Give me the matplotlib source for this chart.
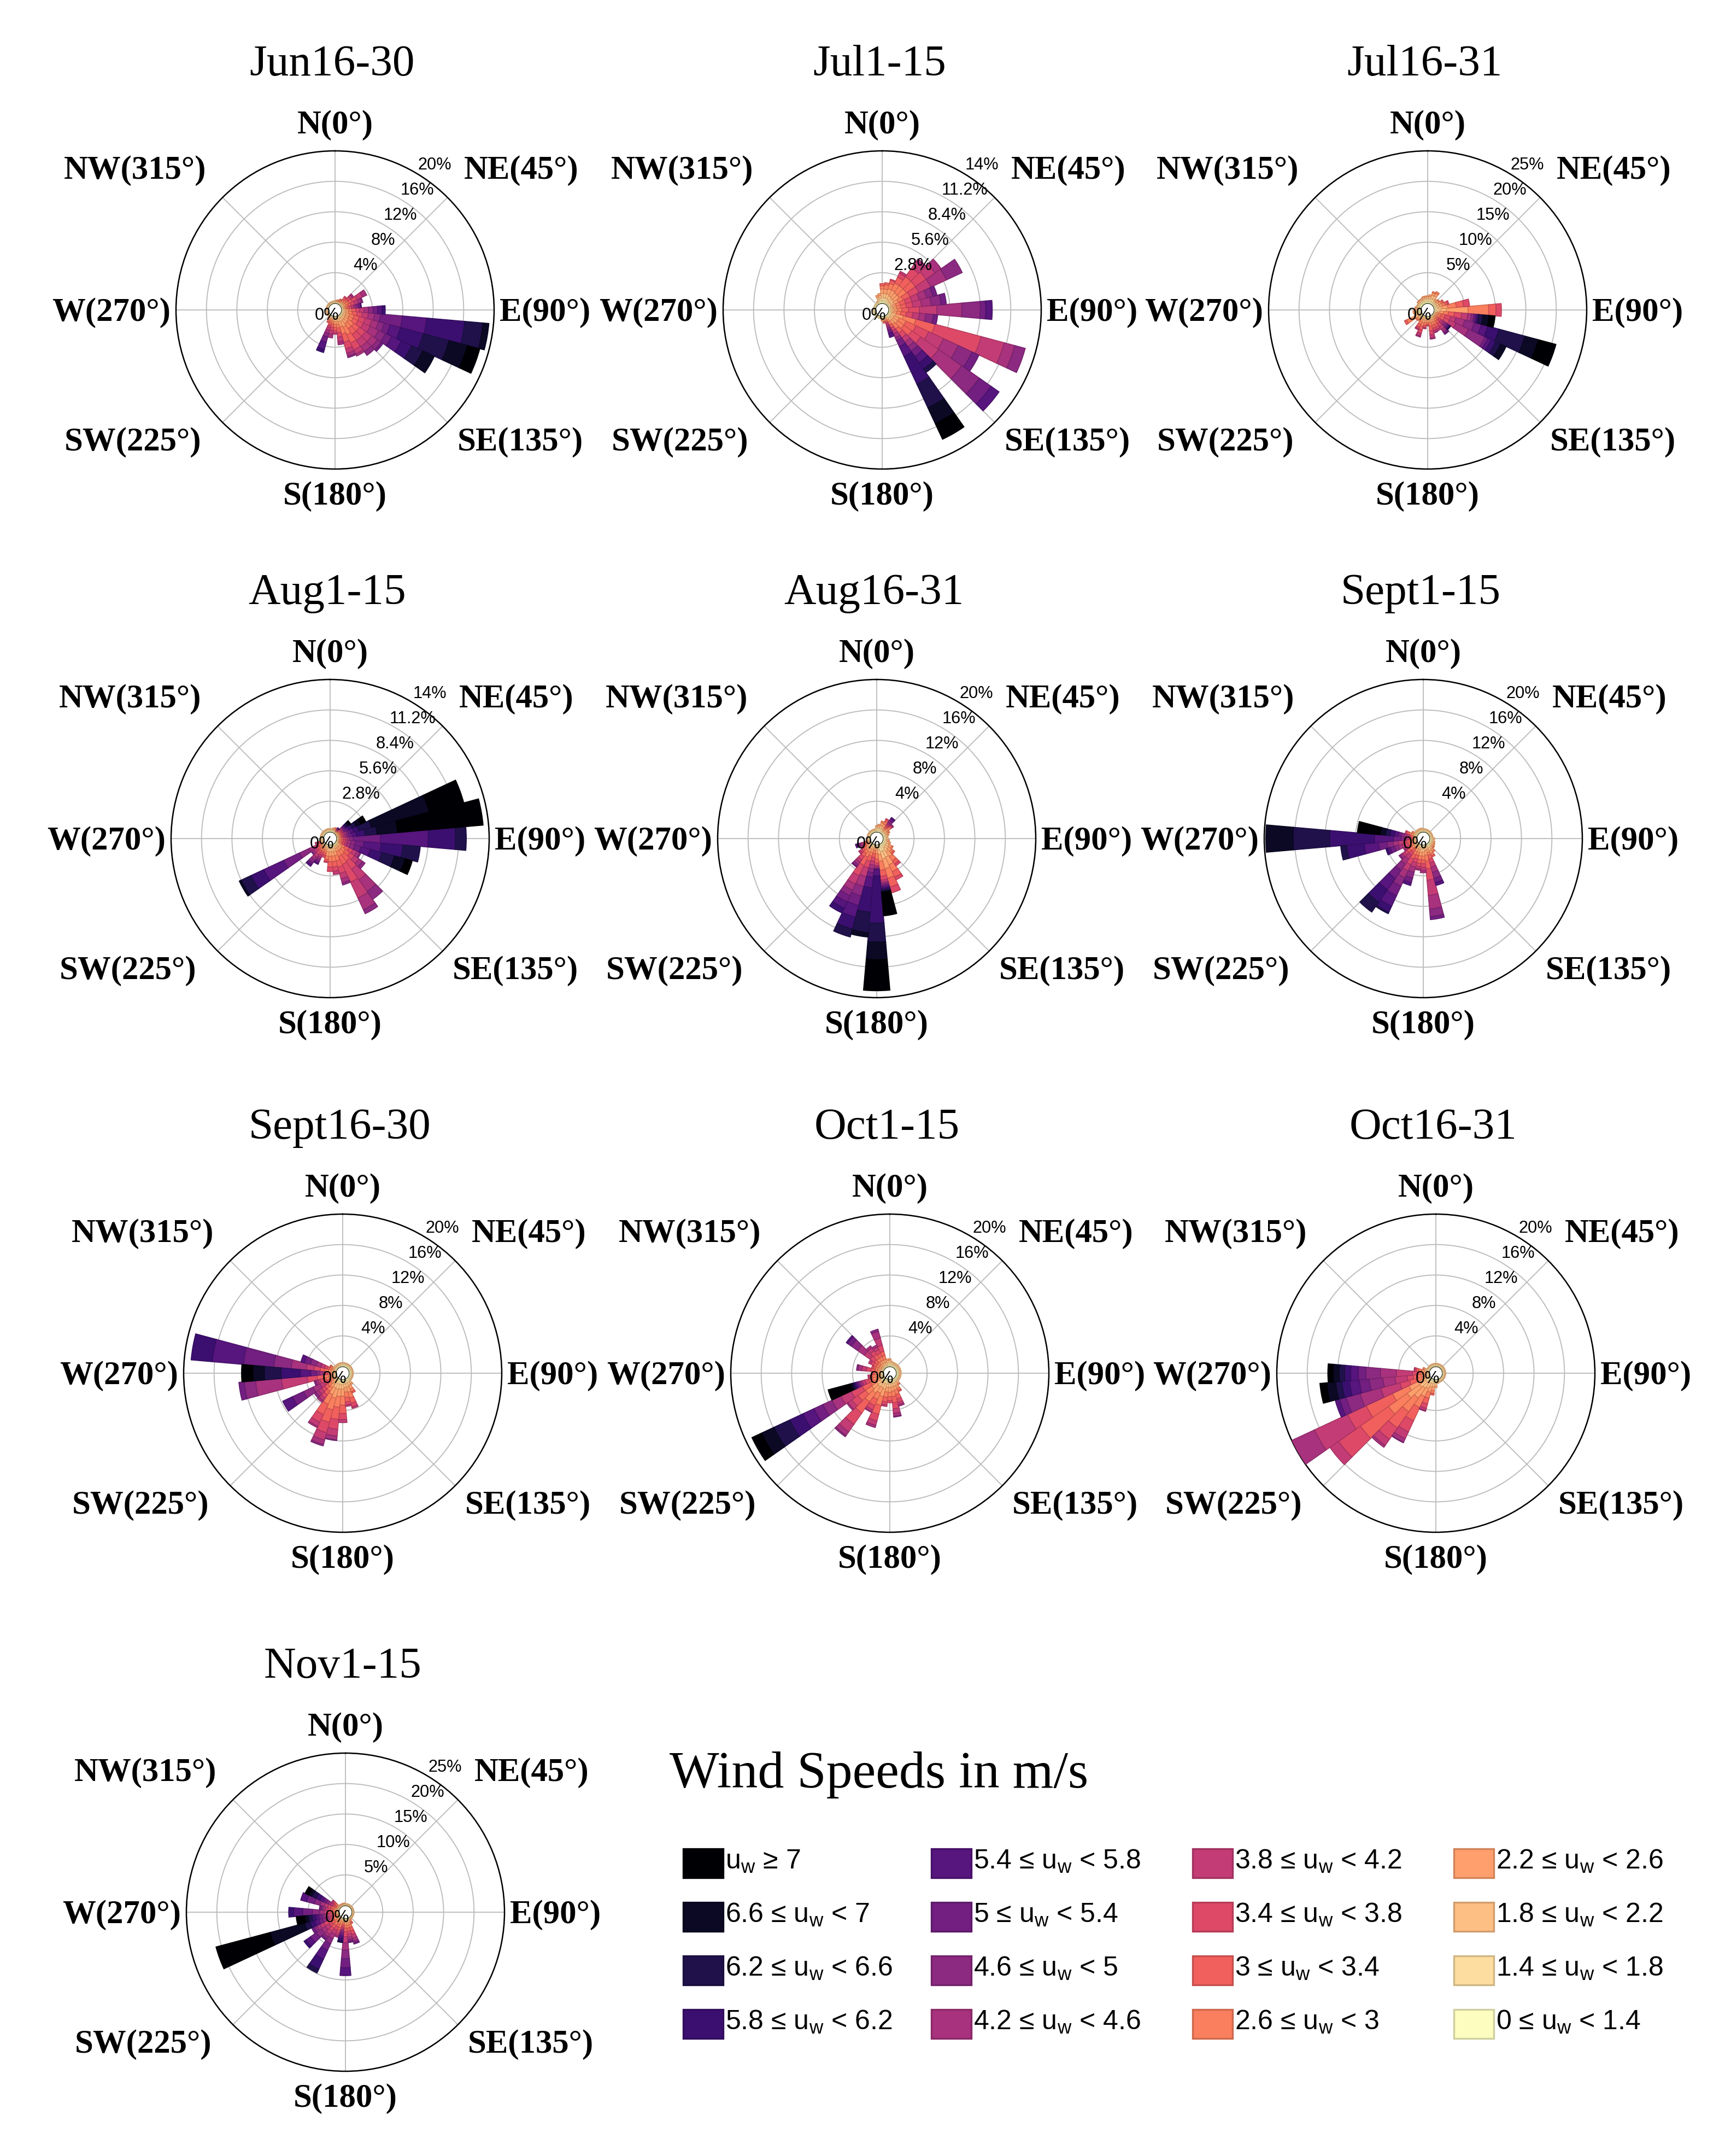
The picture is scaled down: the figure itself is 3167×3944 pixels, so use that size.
import numpy as np
import matplotlib
matplotlib.use("Agg")
import matplotlib.pyplot as plt
from matplotlib.patches import Rectangle

plt.rcParams['font.family'] = ['Liberation Sans', 'DejaVu Sans']

# ---------------- data ----------------
speed_edges = [0, 1.4, 1.8, 2.2, 2.6, 3.0, 3.4, 3.8, 4.2, 4.6, 5.0, 5.4, 5.8, 6.2, 6.6, 7.0]
directions = list(range(0, 360, 10))
panel_titles = ["Jun16-30", "Jul1-15", "Jul16-31", "Aug1-15", "Aug16-31", "Sept1-15",
                "Sept16-30", "Oct1-15", "Oct16-31", "Nov1-15"]
panel_rmax = [20, 14, 25, 14, 20, 20, 20, 20, 20, 25]
compass_labels = ["N(0°)", "NE(45°)", "E(90°)", "SE(135°)", "S(180°)", "SW(225°)", "W(270°)", "NW(315°)"]

# frequency (%) per direction sector, per speed class (lowest class first)
jun16_30 = {
    0: [0.1, 0.1, 0.1], 10: [0.1, 0.1, 0.1, 0.1], 20: [0.1, 0.1, 0.1, 0.1, 0.1],
    30: [0.1, 0.1, 0.1, 0.1, 0.2, 0.1], 40: [0.1, 0.1, 0.2, 0.2, 0.2, 0.3, 0.2],
    50: [0.1, 0.1, 0.2, 0.2, 0.3, 0.3, 0.4, 0.3, 0.2],
    60: [0.1, 0.1, 0.2, 0.3, 0.4, 0.5, 0.7, 0.8, 0.6],
    70: [0.1, 0.1, 0.2, 0.2, 0.3, 0.4, 0.5, 0.5, 0.4, 0.2],
    80: [0.1, 0.1, 0.1, 0.2, 0.2, 0.3, 0.3, 0.3, 0.3, 0.3, 0.3, 0.1],
    90: [0.1, 0.2, 0.3, 0.3, 0.4, 0.5, 0.5, 0.6, 0.6, 0.6, 0.6, 0.6, 0.4],
    100: [0.1, 0.2, 0.2, 0.4, 0.5, 0.6, 0.7, 0.8, 0.8, 0.8, 2.9, 3.2, 5.0, 2.4, 0.8],
    110: [0.1, 0.2, 0.3, 0.5, 0.6, 0.7, 0.8, 0.9, 0.9, 0.8, 0.8, 1.4, 3.1, 3.5, 2.5, 1.7],
    120: [0.1, 0.2, 0.3, 0.5, 0.6, 0.7, 0.8, 1.0, 1.2, 1.0, 0.9, 1.4, 1.5, 1.6, 1.7],
    130: [0.1, 0.2, 0.4, 0.6, 0.8, 0.9, 1.0, 1.0, 0.9, 0.6, 0.3],
    140: [0.1, 0.2, 0.4, 0.6, 0.8, 0.9, 1.0, 1.0, 0.8, 0.6],
    150: [0.1, 0.2, 0.5, 0.8, 1.1, 1.2, 1.0, 0.6, 0.3],
    160: [0.1, 0.2, 0.4, 0.7, 1.0, 1.1, 0.9, 0.6, 0.4, 0.2],
    170: [0.1, 0.2, 0.3, 0.4, 0.5, 0.6, 0.6, 0.6, 0.4],
    180: [0.1, 0.2, 0.3, 0.4, 0.4, 0.4, 0.3, 0.2],
    190: [0.1, 0.1, 0.2, 0.3, 0.3, 0.4, 0.4, 0.5, 0.5],
    200: [0.1, 0.1, 0.2, 0.2, 0.3, 0.3, 0.3, 0.4, 0.4, 0.5, 0.7, 1.0, 0.4],
    210: [0.1, 0.1, 0.2, 0.2, 0.2, 0.2], 220: [0.1, 0.1, 0.1, 0.1],
    230: [0.1, 0.1, 0.1], 240: [0.1, 0.1, 0.1], 250: [0.1, 0.1, 0.1], 260: [0.1, 0.1, 0.1],
    270: [0.1, 0.1, 0.1], 280: [0.1, 0.1, 0.1], 290: [0.1, 0.1, 0.1], 300: [0.1, 0.1, 0.1],
    310: [0.1, 0.1, 0.1], 320: [0.1, 0.1, 0.1], 330: [0.1, 0.1, 0.1], 340: [0.1, 0.1, 0.1],
    350: [0.1, 0.1, 0.1],
}

jul1_15 = {
    0: [0.2, 0.3, 0.4, 0.4, 0.3, 0.2], 10: [0.2, 0.3, 0.4, 0.4, 0.4, 0.2],
    20: [0.2, 0.3, 0.4, 0.5, 0.5, 0.3, 0.1], 30: [0.1, 0.3, 0.4, 0.6, 0.7, 0.6, 0.4, 0.2],
    40: [0.1, 0.2, 0.4, 0.6, 0.8, 1.0, 1.0, 0.7, 0.3],
    50: [0.1, 0.2, 0.4, 0.6, 0.8, 1.0, 1.2, 1.0, 0.7],
    60: [0.1, 0.2, 0.3, 0.4, 0.5, 0.7, 0.9, 1.2, 1.6, 1.6],
    70: [0.1, 0.1, 0.2, 0.3, 0.4, 0.5, 0.6, 0.7, 0.7, 0.6, 0.4],
    80: [0.1, 0.1, 0.2, 0.3, 0.4, 0.5, 0.6, 0.8, 0.9, 0.9, 0.5],
    90: [0.1, 0.2, 0.2, 0.3, 0.4, 0.6, 1.0, 1.6, 2.3, 1.7, 0.5, 0.6],
    100: [0.1, 0.1, 0.2, 0.3, 0.4, 0.5, 0.6, 0.6, 0.6, 0.7, 0.4],
    110: [0.1, 0.2, 0.4, 0.7, 1.2, 1.8, 4.4, 2.2, 1.0, 1.0],
    120: [0.1, 0.2, 0.3, 0.5, 0.7, 1.0, 1.3, 1.5, 1.5, 1.4, 0.7],
    130: [0.1, 0.2, 0.3, 0.5, 0.7, 0.9, 1.0, 2.0, 2.6, 2.0, 1.3, 0.9],
    140: [0.1, 0.2, 0.3, 0.4, 0.5, 0.5, 0.5, 0.5, 0.5, 0.5, 0.6, 0.7, 0.7, 0.4],
    150: [0.1, 0.1, 0.2, 0.2, 0.3, 0.3, 0.3, 0.3, 0.4, 0.3, 0.6, 1.0, 2.8, 2.4, 1.6, 1.6],
    160: [0.1, 0.1, 0.1, 0.1, 0.1, 0.1, 0.1, 0.2, 0.2, 0.2, 0.3, 0.4],
    170: [0.1, 0.1, 0.1, 0.1, 0.1, 0.1], 180: [0.1, 0.1, 0.1, 0.1],
    190: [0.1, 0.1], 200: [0.1, 0.1], 210: [0.1, 0.1], 220: [0.1, 0.1], 230: [0.1, 0.1],
    240: [0.1, 0.1], 250: [0.1, 0.1], 260: [0.1, 0.1], 270: [0.1, 0.1], 280: [0.1, 0.1],
    290: [0.1, 0.1], 300: [0.1, 0.1], 310: [0.1, 0.1], 320: [0.1, 0.1],
    330: [0.1, 0.1, 0.1], 340: [0.2, 0.2, 0.2, 0.2], 350: [0.2, 0.2, 0.3, 0.2],
}

jul16_31 = {
    0: [0.3, 0.4, 0.3, 0.2], 10: [0.3, 0.4, 0.4, 0.3], 20: [0.3, 0.5, 0.6, 0.4, 0.2],
    30: [0.3, 0.5, 0.6, 0.5, 0.3], 40: [0.2, 0.3, 0.3, 0.3], 50: [0.2, 0.3, 0.3, 0.3, 0.2],
    60: [0.2, 0.3, 0.4, 0.4, 0.3, 0.2], 70: [0.2, 0.3, 0.4, 0.5, 0.5, 0.4, 0.2],
    80: [0.2, 0.4, 0.6, 1.0, 1.4, 1.2, 1.0],
    90: [0.3, 0.6, 1.0, 3.6, 3.4, 1.2, 0.9],
    100: [0.2, 0.3, 0.4, 0.6, 0.8, 1.0, 1.2, 1.0, 0.6, 0.4, 0.3, 0.3, 0.2, 0.7, 1.0, 1.0],
    110: [0.1, 0.1, 0.2, 0.3, 0.5, 0.7, 0.9, 0.9, 1.5, 1.6, 1.2, 1.1, 1.9, 4.4, 2.3, 3.0],
    120: [0.1, 0.1, 0.2, 0.3, 0.5, 0.7, 0.9, 1.2, 2.3, 3.0, 0.5, 0.6, 0.8, 0.9, 1.0],
    130: [0.1, 0.1, 0.2, 0.2, 0.3, 0.3, 0.4, 0.4, 0.4, 0.4, 0.3, 0.2, 0.1, 0.1],
    140: [0.1, 0.1, 0.2, 0.3, 0.4, 0.5, 0.6, 0.6, 0.5, 0.3, 0.2],
    150: [0.1, 0.2, 0.3, 0.4, 0.5, 0.5, 0.4, 0.3],
    160: [0.1, 0.2, 0.3, 0.4, 0.5, 0.5, 0.4, 0.3, 0.1],
    170: [0.1, 0.2, 0.3, 0.4, 0.6, 0.7, 0.7, 0.5, 0.2],
    180: [0.1, 0.2, 0.3, 0.3, 0.3, 0.2, 0.1],
    190: [0.1, 0.2, 0.3, 0.4, 0.4, 0.3, 0.2, 0.1],
    200: [0.1, 0.2, 0.3, 0.5, 0.6, 0.6, 0.6, 0.4, 0.2],
    210: [0.1, 0.2, 0.3, 0.4, 0.5, 0.5, 0.3, 0.2],
    220: [0.2, 0.2, 0.3, 0.3, 0.2], 230: [0.2, 0.3, 0.3, 0.3, 0.2],
    240: [0.2, 0.4, 0.6, 0.8, 0.7, 0.4], 250: [0.3, 0.4, 0.3, 0.2], 260: [0.3, 0.4, 0.4, 0.2],
    270: [0.3, 0.4, 0.3, 0.2], 280: [0.3, 0.3, 0.2, 0.2], 290: [0.3, 0.3, 0.2],
    300: [0.3, 0.3, 0.2], 310: [0.3, 0.3, 0.3, 0.1], 320: [0.3, 0.3, 0.3, 0.1],
    330: [0.3, 0.3, 0.3, 0.1], 340: [0.3, 0.4, 0.3, 0.2], 350: [0.3, 0.4, 0.3, 0.2],
}

aug1_15 = {
    0: [0.1, 0.1, 0.1], 10: [0.1, 0.1, 0.1], 20: [0.1, 0.1, 0.1, 0.1], 30: [0.1, 0.1, 0.1, 0.1, 0.1],
    40: [0.05, 0.05, 0.05, 0.05, 0.05, 0.05, 0.05, 0.05, 0.05, 0.05, 0.05, 0.05],
    50: [0.05, 0.05, 0.1, 0.1, 0.1, 0.1, 0.1, 0.1, 0.1, 0.1, 0.1, 0.1, 0.1, 0.2, 0.2, 0.1],
    60: [0.05, 0.05, 0.1, 0.1, 0.1, 0.1, 0.1, 0.1, 0.1, 0.1, 0.2, 0.2, 0.3, 0.4, 0.5, 0.5],
    70: [0.05, 0.05, 0.1, 0.1, 0.1, 0.1, 0.15, 0.15, 0.15, 0.15, 0.2, 0.3, 0.5, 1.2, 5.5, 3.3],
    80: [0.05, 0.05, 0.1, 0.1, 0.1, 0.1, 0.1, 0.15, 0.15, 0.2, 0.3, 0.4, 0.8, 1.1, 1.9, 7.9],
    90: [0.05, 0.05, 0.1, 0.1, 0.15, 0.15, 0.2, 0.2, 0.2, 0.3, 2.5, 4.4, 2.5, 1.0],
    100: [0.05, 0.05, 0.1, 0.1, 0.15, 0.15, 0.2, 0.2, 0.3, 0.4, 0.8, 1.6, 2.0, 1.6],
    110: [0.05, 0.05, 0.1, 0.1, 0.15, 0.15, 0.2, 0.2, 0.3, 0.4, 0.6, 0.9, 1.1, 1.2, 1.0, 0.7],
    120: [0.1, 0.1, 0.2, 0.2, 0.3, 0.4, 0.4, 0.4, 0.3, 0.1],
    130: [0.1, 0.1, 0.2, 0.3, 0.4, 0.5, 0.5, 0.5, 0.4, 0.3],
    140: [0.1, 0.1, 0.2, 0.3, 0.5, 0.7, 0.9, 1.2, 1.3, 0.9],
    150: [0.1, 0.1, 0.2, 0.3, 0.5, 0.8, 1.8, 1.6, 1.2, 0.4],
    160: [0.1, 0.2, 0.3, 0.4, 0.5, 0.6, 0.6, 0.5, 0.4, 0.2],
    170: [0.1, 0.2, 0.3, 0.4, 0.5, 0.5, 0.4, 0.3],
    180: [0.1, 0.2, 0.3, 0.4, 0.5, 0.5, 0.4],
    190: [0.1, 0.2, 0.3, 0.4, 0.3, 0.2, 0.1],
    200: [0.1, 0.1, 0.2, 0.2, 0.2, 0.2, 0.2],
    210: [0.1, 0.1, 0.1, 0.2, 0.2, 0.2, 0.2, 0.2, 0.2, 0.2, 0.2, 0.1],
    220: [0.1, 0.1, 0.1, 0.2, 0.2, 0.2, 0.3, 0.3, 0.3, 0.3, 0.2, 0.2],
    230: [0.1, 0.1, 0.1, 0.1, 0.2, 0.2, 0.2, 0.2, 0.2, 0.1],
    240: [0.05, 0.05, 0.1, 0.1, 0.1, 0.2, 0.2, 0.3, 0.4, 1.0, 1.6, 2.0, 1.3, 1.0, 0.2],
    250: [0.1, 0.1, 0.1, 0.1, 0.1, 0.1, 0.1, 0.1],
    260: [0.1, 0.1, 0.1], 270: [0.1, 0.1, 0.1], 280: [0.1, 0.1, 0.1], 290: [0.1, 0.1, 0.1],
    300: [0.1, 0.1, 0.1], 310: [0.1, 0.1, 0.1], 320: [0.1, 0.1, 0.1], 330: [0.1, 0.1, 0.1],
    340: [0.1, 0.1, 0.1], 350: [0.1, 0.1, 0.1],
}

aug16_31 = {
    0: [0.2, 0.3, 0.2, 0.1], 10: [0.2, 0.3, 0.3, 0.2], 20: [0.2, 0.3, 0.4, 0.4, 0.2],
    30: [0.2, 0.3, 0.3, 0.4, 0.4, 0.3, 0.1],
    40: [0.1, 0.2, 0.2, 0.2, 0.2, 0.2, 0.2, 0.2, 0.2, 0.3, 0.3, 0.2],
    50: [0.2, 0.2, 0.3, 0.3, 0.3, 0.2, 0.1, 0.1, 0.1], 60: [0.2, 0.2, 0.2, 0.2, 0.2],
    70: [0.2, 0.2, 0.2, 0.2], 80: [0.2, 0.2, 0.2], 90: [0.2, 0.2, 0.2], 100: [0.2, 0.2, 0.2, 0.2],
    110: [0.2, 0.3, 0.3, 0.2], 120: [0.2, 0.3, 0.4, 0.4, 0.2], 130: [0.2, 0.3, 0.5, 0.5, 0.3, 0.2],
    140: [0.2, 0.4, 0.6, 0.8, 0.7, 0.5, 0.3], 150: [0.3, 0.6, 0.9, 1.1, 1.0, 0.8, 0.4],
    160: [0.3, 0.6, 1.0, 1.3, 1.3, 1.2, 0.8],
    170: [0.2, 0.4, 0.6, 0.9, 1.2, 0.8, 0.5, 0.3, 0.2, 0.2, 0.2, 0.2, 0.2, 0.2, 0.1, 3.1],
    180: [0.1, 0.2, 0.3, 0.5, 0.7, 0.5, 0.3, 0.2, 0.2, 0.1, 0.1, 0.8, 6.2, 2.5, 2.3, 4.1],
    190: [0.1, 0.1, 0.2, 0.3, 0.4, 0.5, 0.5, 0.5, 0.5, 0.5, 0.6, 1.4, 3.2, 2.7, 0.6],
    200: [0.1, 0.2, 0.3, 0.4, 0.5, 0.7, 0.9, 1.2, 1.3, 1.3, 1.3, 1.6, 1.6, 1.1],
    210: [0.1, 0.2, 0.3, 0.5, 0.7, 1.2, 1.5, 1.2, 0.9, 0.8, 0.9, 0.9, 0.7],
    220: [0.1, 0.2, 0.3, 0.4, 0.5, 0.5, 0.5, 0.4, 0.4, 0.3, 0.1],
    230: [0.1, 0.2, 0.3, 0.3, 0.3, 0.3, 0.3, 0.2],
    240: [0.1, 0.1, 0.2, 0.2, 0.2, 0.2, 0.2, 0.2, 0.1],
    250: [0.1, 0.1, 0.1, 0.1, 0.2, 0.2, 0.2, 0.2, 0.2, 0.2, 0.2, 0.2],
    260: [0.1, 0.2, 0.1], 270: [0.1, 0.2, 0.1], 280: [0.1, 0.2, 0.1], 290: [0.1, 0.2, 0.1],
    300: [0.1, 0.2, 0.1], 310: [0.1, 0.2, 0.1], 320: [0.1, 0.2, 0.1], 330: [0.1, 0.2, 0.1],
    340: [0.1, 0.2, 0.1], 350: [0.1, 0.2, 0.1],
}

sep1_15 = {
    0: [0.1, 0.2, 0.1], 10: [0.1, 0.2, 0.1], 20: [0.1, 0.2, 0.1], 30: [0.1, 0.2, 0.1],
    40: [0.1, 0.2, 0.1], 50: [0.1, 0.2, 0.1], 60: [0.1, 0.2, 0.1], 70: [0.1, 0.2, 0.1],
    80: [0.1, 0.2, 0.1], 90: [0.2, 0.2, 0.2], 100: [0.2, 0.2, 0.2], 110: [0.2, 0.2, 0.2, 0.1],
    120: [0.2, 0.2, 0.2, 0.2], 130: [0.2, 0.2, 0.2, 0.2, 0.1], 140: [0.2, 0.3, 0.3, 0.3, 0.2],
    150: [0.2, 0.3, 0.4, 0.4, 0.3, 0.2],
    160: [0.1, 0.2, 0.3, 0.4, 0.4, 0.5, 0.5, 0.6, 0.7, 0.8, 0.6, 0.4],
    170: [0.1, 0.2, 0.4, 0.6, 0.8, 1.0, 1.5, 2.0, 1.8, 1.0, 0.4],
    180: [0.2, 0.3, 0.4, 0.5, 0.5, 0.5, 0.5, 0.4, 0.3],
    190: [0.2, 0.3, 0.4, 0.5, 0.5, 0.5, 0.4, 0.3, 0.2],
    200: [0.1, 0.2, 0.3, 0.4, 0.4, 0.5, 0.5, 0.6, 0.7, 0.8, 0.6, 0.4],
    210: [0.1, 0.2, 0.3, 0.4, 0.5, 0.6, 0.8, 0.9, 1.0, 1.2, 1.4, 1.5, 0.9, 0.2],
    220: [0.1, 0.1, 0.2, 0.2, 0.3, 0.4, 0.5, 0.6, 0.8, 1.0, 1.3, 1.8, 2.0, 1.6],
    230: [0.1, 0.2, 0.3, 0.3, 0.4, 0.4, 0.4, 0.4, 0.3, 0.2],
    240: [0.1, 0.1, 0.2, 0.2, 0.3, 0.3, 0.3, 0.3, 0.2],
    250: [0.1, 0.1, 0.2, 0.2, 0.3, 0.3, 0.4, 0.4, 0.5, 0.5, 0.6, 0.4, 0.2],
    260: [0.1, 0.1, 0.2, 0.2, 0.3, 0.4, 0.5, 0.6, 0.7, 0.8, 1.1, 1.9, 2.3, 0.8],
    270: [0.1, 0.1, 0.1, 0.1, 0.2, 0.2, 0.2, 0.3, 0.3, 0.4, 1.0, 2.5, 5.9, 4.8, 3.6],
    280: [0.1, 0.1, 0.1, 0.1, 0.2, 0.2, 0.2, 0.3, 0.3, 0.4, 0.4, 0.5, 0.6, 0.6, 0.7, 3.0],
    290: [0.1, 0.2, 0.2, 0.3, 0.3, 0.3, 0.2], 300: [0.1, 0.2, 0.2, 0.2, 0.1],
    310: [0.1, 0.2, 0.2], 320: [0.1, 0.2, 0.2], 330: [0.1, 0.2, 0.2], 340: [0.1, 0.2, 0.2],
    350: [0.1, 0.2, 0.2],
}

sep16_30 = {
    0: [0.2, 0.2, 0.1], 10: [0.2, 0.2, 0.1], 20: [0.2, 0.2, 0.1], 30: [0.2, 0.2, 0.1],
    40: [0.2, 0.2, 0.1], 50: [0.2, 0.2, 0.1], 60: [0.2, 0.2, 0.1], 70: [0.2, 0.2, 0.1],
    80: [0.2, 0.2, 0.1], 90: [0.2, 0.2, 0.1], 100: [0.2, 0.2, 0.1], 110: [0.2, 0.2, 0.1],
    120: [0.2, 0.2, 0.1], 130: [0.2, 0.2, 0.1], 140: [0.2, 0.3, 0.3, 0.2],
    150: [0.2, 0.3, 0.4, 0.5, 0.4, 0.2],
    160: [0.2, 0.3, 0.5, 0.7, 0.8, 0.7, 0.5, 0.2],
    170: [0.2, 0.3, 0.5, 0.6, 0.7, 0.6, 0.4, 0.2],
    180: [0.2, 0.4, 0.6, 0.9, 1.2, 1.1, 0.8, 0.4],
    190: [0.2, 0.4, 0.6, 1.0, 1.4, 1.6, 1.3, 0.9, 0.5, 0.1],
    200: [0.2, 0.4, 0.7, 1.2, 1.6, 1.7, 1.4, 1.0, 0.6, 0.2],
    210: [0.2, 0.4, 0.6, 1.0, 1.4, 1.5, 1.1, 0.6, 0.2],
    220: [0.2, 0.3, 0.4, 0.5, 0.6, 0.6, 0.5, 0.4, 0.3],
    230: [0.1, 0.2, 0.3, 0.4, 0.5, 0.5, 0.5, 0.5, 0.4, 0.3],
    240: [0.1, 0.1, 0.2, 0.2, 0.3, 0.4, 0.5, 0.6, 1.0, 1.4, 1.6, 1.4],
    250: [0.1, 0.2, 0.3, 0.4, 0.4, 0.4, 0.4, 0.3, 0.3, 0.2],
    260: [0.1, 0.2, 0.3, 0.4, 0.6, 0.9, 1.3, 3.4, 3.4, 1.5, 0.7],
    270: [0.1, 0.1, 0.2, 0.2, 0.2, 0.3, 0.3, 0.3, 0.4, 0.4, 0.8, 1.4, 2.5, 2.2, 1.5, 1.5],
    280: [0.1, 0.2, 0.3, 0.4, 0.5, 0.6, 0.8, 1.0, 2.0, 2.3, 4.0, 4.1, 2.8],
    290: [0.1, 0.1, 0.2, 0.2, 0.3, 0.3, 0.4, 0.5, 0.6, 0.8, 0.8, 0.5],
    300: [0.1, 0.2, 0.2, 0.2, 0.2, 0.1], 310: [0.1, 0.2, 0.2], 320: [0.1, 0.2, 0.2],
    330: [0.1, 0.2, 0.2], 340: [0.1, 0.2, 0.2], 350: [0.2, 0.2, 0.1],
}

oct1_15 = {
    0: [0.2, 0.3, 0.3, 0.2], 10: [0.2, 0.3, 0.2], 20: [0.2, 0.2, 0.2], 30: [0.2, 0.2, 0.2],
    40: [0.2, 0.2, 0.2], 50: [0.2, 0.2, 0.2], 60: [0.2, 0.2, 0.2], 70: [0.2, 0.2, 0.2],
    80: [0.2, 0.2, 0.2], 90: [0.2, 0.2, 0.2], 100: [0.2, 0.2, 0.2], 110: [0.2, 0.2, 0.2],
    120: [0.2, 0.2, 0.2], 130: [0.2, 0.2, 0.2], 140: [0.2, 0.2, 0.3, 0.2, 0.1],
    150: [0.2, 0.3, 0.4, 0.4, 0.3, 0.2],
    160: [0.2, 0.3, 0.4, 0.5, 0.6, 0.6, 0.5, 0.3, 0.2],
    170: [0.2, 0.3, 0.4, 0.6, 0.7, 0.8, 0.8, 0.6, 0.4, 0.1],
    180: [0.2, 0.3, 0.5, 0.6, 0.6, 0.5, 0.3],
    190: [0.2, 0.3, 0.5, 0.6, 0.7, 0.6, 0.4, 0.2],
    200: [0.2, 0.4, 0.7, 1.0, 1.2, 1.2, 0.9, 0.6, 0.3],
    210: [0.2, 0.4, 0.6, 0.8, 0.9, 0.9, 0.6, 0.3, 0.1],
    220: [0.2, 0.4, 0.7, 1.0, 1.4, 1.8, 1.8, 1.2, 0.6, 0.2],
    230: [0.2, 0.4, 0.6, 0.8, 1.0, 1.2, 1.0, 0.6, 0.2],
    240: [0.1, 0.2, 0.3, 0.5, 0.8, 1.2, 1.6, 1.5, 1.3, 1.3, 1.3, 1.6, 1.9, 2.3, 1.8, 1.4],
    250: [0.1, 0.2, 0.3, 0.4, 0.5, 0.5, 0.5, 0.4, 0.3, 0.2, 0.2, 0.2, 0.2, 0.2, 0.3, 3.0],
    260: [0.1, 0.2, 0.3, 0.4, 0.4, 0.3, 0.2, 0.1],
    270: [0.1, 0.2, 0.2, 0.3, 0.3, 0.2, 0.2],
    280: [0.1, 0.1, 0.2, 0.3, 0.4, 0.5, 0.6, 0.6, 0.5, 0.2],
    290: [0.1, 0.2, 0.2, 0.3, 0.3, 0.3, 0.2],
    300: [0.1, 0.1, 0.2, 0.3, 0.4, 0.4, 0.4, 0.3],
    310: [0.1, 0.1, 0.2, 0.3, 0.4, 0.5, 0.7, 0.9, 1.1, 1.0, 0.6, 0.2],
    320: [0.1, 0.2, 0.3, 0.4, 0.5, 0.6, 0.6, 0.5, 0.3],
    330: [0.1, 0.2, 0.3, 0.4, 0.5, 0.5, 0.5, 0.4, 0.3],
    340: [0.1, 0.2, 0.3, 0.4, 0.5, 0.6, 0.8, 1.0, 0.9, 0.3],
    350: [0.2, 0.3, 0.3, 0.2],
}

oct16_31 = {
    0: [0.1, 0.2, 0.1], 10: [0.1, 0.2, 0.1], 20: [0.1, 0.2, 0.1], 30: [0.1, 0.2, 0.1],
    40: [0.1, 0.2, 0.1], 50: [0.1, 0.2, 0.1], 60: [0.1, 0.2, 0.1], 70: [0.1, 0.2, 0.1],
    80: [0.1, 0.2, 0.1], 90: [0.1, 0.2, 0.1], 100: [0.1, 0.2, 0.1], 110: [0.1, 0.2, 0.1],
    120: [0.1, 0.2, 0.1], 130: [0.1, 0.2, 0.1], 140: [0.1, 0.2, 0.1], 150: [0.1, 0.2, 0.1],
    160: [0.1, 0.2, 0.1], 170: [0.1, 0.2, 0.2], 180: [0.2, 0.3, 0.3, 0.2],
    190: [0.2, 0.3, 0.4, 0.5, 0.4, 0.2],
    200: [0.2, 0.3, 0.5, 0.7, 0.8, 0.8, 0.6, 0.3, 0.1],
    210: [0.2, 0.4, 0.7, 1.2, 1.6, 1.9, 1.6, 1.0, 0.5, 0.1],
    220: [0.2, 0.4, 0.9, 1.6, 2.2, 2.6, 1.8, 1.0, 0.3],
    230: [0.2, 0.5, 1.0, 2.0, 3.0, 4.5, 3.5, 1.4],
    240: [0.2, 0.4, 0.7, 1.7, 2.4, 3.8, 2.7, 4.8, 3.3],
    250: [0.1, 0.2, 0.3, 0.5, 0.7, 0.9, 1.3, 2.6, 2.8, 1.9, 0.9, 0.6],
    260: [0.1, 0.2, 0.3, 0.4, 0.5, 0.6, 0.8, 1.6, 1.6, 1.8, 1.3, 1.3, 1.0, 0.8, 1.2, 0.9],
    270: [0.1, 0.1, 0.2, 0.3, 0.4, 0.5, 0.6, 2.1, 2.1, 1.9, 1.0, 1.0, 0.8, 0.7, 0.8, 0.7],
    280: [0.1, 0.2, 0.3, 0.4, 0.4, 0.3, 0.2, 0.1],
    290: [0.2, 0.2, 0.2, 0.2, 0.1], 300: [0.1, 0.2, 0.1], 310: [0.1, 0.2, 0.1],
    320: [0.1, 0.2, 0.1], 330: [0.1, 0.2, 0.1], 340: [0.1, 0.2, 0.1], 350: [0.1, 0.2, 0.1],
}

nov1_15 = {
    0: [0.1, 0.1, 0.1], 10: [0.1, 0.1, 0.1], 20: [0.1, 0.1, 0.1], 30: [0.1, 0.1, 0.1],
    40: [0.1, 0.1, 0.1], 50: [0.1, 0.1, 0.1], 60: [0.1, 0.1, 0.1], 70: [0.1, 0.1, 0.1],
    80: [0.1, 0.1, 0.1], 90: [0.1, 0.1, 0.1], 100: [0.1, 0.1, 0.1], 110: [0.1, 0.1, 0.1],
    120: [0.1, 0.1, 0.1], 130: [0.1, 0.1, 0.1], 140: [0.1, 0.1, 0.1, 0.1],
    150: [0.1, 0.1, 0.2, 0.2, 0.2, 0.2],
    160: [0.1, 0.2, 0.3, 0.4, 0.5, 0.6, 0.6, 0.6, 0.5, 0.3, 0.2],
    170: [0.1, 0.2, 0.3, 0.4, 0.5, 0.5, 0.5, 0.5, 0.4, 0.3, 0.2],
    180: [0.1, 0.2, 0.3, 0.4, 0.5, 0.6, 0.8, 1.0, 1.2, 1.4, 1.5, 1.3],
    190: [0.1, 0.1, 0.2, 0.2, 0.3, 0.3, 0.3, 0.3, 0.3, 0.3, 0.4, 0.4, 0.5, 0.2],
    200: [0.1, 0.2, 0.3, 0.4, 0.5, 0.5, 0.5, 0.4, 0.3],
    210: [0.1, 0.1, 0.2, 0.3, 0.4, 0.5, 0.6, 0.7, 0.8, 0.9, 1.2, 1.6, 1.8, 0.7],
    220: [0.1, 0.2, 0.3, 0.4, 0.5, 0.6, 0.6, 0.6, 0.5, 0.4, 0.3],
    230: [0.1, 0.1, 0.2, 0.3, 0.4, 0.5, 0.6, 0.7, 0.8, 1.0, 1.2, 0.9, 0.4],
    240: [0.1, 0.2, 0.3, 0.4, 0.5, 0.6, 0.7, 0.7, 0.6, 0.5, 0.4],
    250: [0.05, 0.05, 0.1, 0.2, 0.3, 0.3, 0.4, 0.4, 0.5, 0.5, 0.6, 0.7, 0.8, 0.9, 5.9, 9.2],
    260: [0.1, 0.1, 0.2, 0.2, 0.3, 0.3, 0.4, 0.4, 0.4, 0.4, 0.5, 0.5, 0.6, 0.6, 0.6, 1.4],
    270: [0.1, 0.1, 0.2, 0.2, 0.3, 0.4, 0.5, 0.6, 0.7, 1.2, 1.6, 1.5, 0.8],
    280: [0.1, 0.1, 0.2, 0.3, 0.3, 0.4, 0.4, 0.4, 0.4, 0.3, 0.3],
    290: [0.1, 0.1, 0.2, 0.3, 0.3, 0.4, 0.5, 0.6, 0.7, 1.0, 1.3, 1.0],
    300: [0.1, 0.1, 0.1, 0.2, 0.2, 0.3, 0.3, 0.3, 0.4, 0.4, 0.5, 0.6, 0.7, 0.8, 0.5, 0.7],
    310: [0.1, 0.1, 0.2, 0.2, 0.3, 0.3, 0.3, 0.2],
    320: [0.1, 0.1, 0.1, 0.1], 330: [0.1, 0.1, 0.1, 0.1], 340: [0.1, 0.1, 0.1, 0.1],
    350: [0.1, 0.1, 0.1, 0.1],
}

panel_data = [jun16_30, jul1_15, jul16_31, aug1_15, aug16_31, sep1_15,
              sep16_30, oct1_15, oct16_31, nov1_15]

legend_labels = [
    r"$\mathregular{u_w}$ ≥ 7", r"6.6 ≤ $\mathregular{u_w}$ < 7", r"6.2 ≤ $\mathregular{u_w}$ < 6.6",
    r"5.8 ≤ $\mathregular{u_w}$ < 6.2", r"5.4 ≤ $\mathregular{u_w}$ < 5.8", r"5 ≤ $\mathregular{u_w}$ < 5.4",
    r"4.6 ≤ $\mathregular{u_w}$ < 5", r"4.2 ≤ $\mathregular{u_w}$ < 4.6", r"3.8 ≤ $\mathregular{u_w}$ < 4.2",
    r"3.4 ≤ $\mathregular{u_w}$ < 3.8", r"3 ≤ $\mathregular{u_w}$ < 3.4", r"2.6 ≤ $\mathregular{u_w}$ < 3",
    r"2.2 ≤ $\mathregular{u_w}$ < 2.6", r"1.8 ≤ $\mathregular{u_w}$ < 2.2", r"1.4 ≤ $\mathregular{u_w}$ < 1.8",
    r"0 ≤ $\mathregular{u_w}$ < 1.4",
]

# ---------------- layout (pixels) ----------------
W, H = 3167, 3944
R = 291
HOLE = 0.043
centers = [(613, 567), (1614, 567), (2612, 567),
           (604, 1534), (1604, 1534), (2604, 1534),
           (627, 2512), (1628, 2512), (2627, 2512),
           (632, 3498)]

nb = len(speed_edges)
colors = plt.get_cmap('magma_r')(np.linspace(0, 1, nb))
edges = [tuple(np.clip(np.array(c[:3]) * 0.82, 0, 1)) for c in colors]

fig = plt.figure(figsize=(W / 300, H / 300), dpi=300)
fig.patch.set_facecolor('white')

def fxy(x, y):
    return x / W, 1 - y / H

serif = ['Liberation Serif', 'DejaVu Serif']
sans = ['Liberation Sans', 'DejaVu Sans']

# (label, x offset, y offset (up), ha) in units of R
lab_pos = [("N(0°)", 0.0, 1.111, 'center'), ("NE(45°)", 0.81, 0.825, 'left'),
           ("E(90°)", 1.035, -0.067, 'left'), ("SE(135°)", 0.77, -0.882, 'left'),
           ("S(180°)", 0.0, -1.223, 'center'), ("SW(225°)", -0.84, -0.882, 'right'),
           ("W(270°)", -1.035, -0.067, 'right'), ("NW(315°)", -0.81, 0.825, 'right')]

width = np.deg2rad(10)
theta_all = np.deg2rad(directions)

for k, (data, rmax, title, (cx, cy)) in enumerate(zip(panel_data, panel_rmax, panel_titles, centers)):
    ax = fig.add_axes([(cx - R) / W, 1 - (cy + R) / H, 2 * R / W, 2 * R / H], projection='polar')
    ax.set_theta_zero_location('N')
    ax.set_theta_direction(-1)
    M = np.zeros((len(directions), nb))
    for d, vals in data.items():
        M[directions.index(d), :len(vals)] = vals
    cum = np.cumsum(M, axis=1) - M
    for i in range(nb):
        h = M[:, i]
        m = h > 0
        if m.any():
            ax.bar(theta_all[m], h[m], width=width, bottom=cum[m, i], align='center',
                   color=colors[i], edgecolor=edges[i], linewidth=0.35, zorder=3)
    ax.set_ylim(0, rmax)
    ax.set_rorigin(-rmax * HOLE / (1 - HOLE))
    ticks = np.linspace(0, rmax, 6)[1:]
    ax.set_yticks(ticks)
    ax.set_yticklabels([])
    ax.set_xticks(np.deg2rad(np.arange(0, 360, 45)))
    ax.set_xticklabels([])
    ax.grid(True, color='#bcbcbc', linewidth=0.45)
    ax.spines['polar'].set_linewidth(0.6)
    ax.spines['polar'].set_color('black')
    if 'inner' in ax.spines:
        ax.spines['inner'].set_linewidth(0.6)
        ax.spines['inner'].set_color('#2a2a10')
    ax.tick_params(length=0, pad=0)

    # radial labels
    ang = np.deg2rad(34.5)
    for j, t in enumerate(ticks):
        rr = HOLE + (1 - HOLE) * (j + 1) / 5 + 0.105
        ax.text(0.5 + 0.5 * rr * np.sin(ang), 0.5 + 0.5 * rr * np.cos(ang), f"{t:g}%",
                transform=ax.transAxes, ha='center', va='center', fontsize=7.4,
                family=sans, zorder=5)
    ax.text(0.5 - 0.5 * 0.052, 0.5 - 0.5 * 0.034, "0%", transform=ax.transAxes,
            ha='center', va='center', fontsize=7.4, family=sans, zorder=5)

    # compass labels
    for lab, ox, oy, ha in lab_pos:
        x, y = fxy(cx + ox * R, cy - oy * R)
        fig.text(x, y, lab, ha=ha, va='baseline', fontsize=14.6, fontweight='bold', family=serif)

    # title
    x, y = fxy(cx - 5, cy - 429)
    fig.text(x, y, title, ha='center', va='baseline', fontsize=19.5, family=serif)

# ---------------- legend ----------------
x, y = fxy(1225, 3270)
fig.text(x, y, "Wind Speeds in m/s", ha='left', va='baseline', fontsize=23, family=serif)

col_left = [1250, 1704, 2182, 2660]
row_top = [3382, 3480, 3578, 3676]
pw, ph = 73, 53
for n, lab in enumerate(legend_labels):
    c, r = n // 4, n % 4
    ci = nb - 1 - n
    lx, ty = col_left[c], row_top[r]
    x0, y0 = fxy(lx, ty + ph)
    fig.add_artist(Rectangle((x0, y0), pw / W, ph / H, transform=fig.transFigure,
                             facecolor=colors[ci], edgecolor=edges[ci], linewidth=0.8))
    tx, tyb = fxy(lx + pw + 4, ty + 37)
    fig.text(tx, tyb, lab, ha='left', va='baseline', fontsize=12, family=sans)

fig.savefig("out.png", dpi=300, facecolor='white')
